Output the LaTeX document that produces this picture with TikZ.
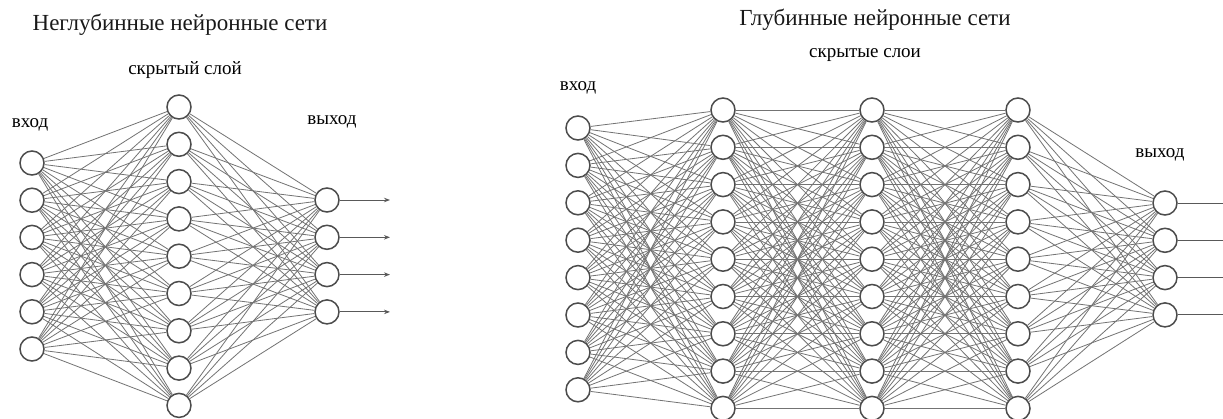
\documentclass[tikz,border=0pt]{standalone}
\usepackage{fontspec}
\setmainfont{Liberation Serif}
\usetikzlibrary{arrows.meta}
\tikzset{
  neuron/.style={circle, draw=black!70, line width=1.5pt, fill=white, minimum size=24pt, inner sep=0pt},
  link/.style={draw=black!55, line width=0.8pt},
  outarrow/.style={draw=black!65, line width=1pt, -{Stealth[length=6pt,width=4.5pt]}},
  outline/.style={draw=black!65, line width=1pt},
  titletext/.style={font=\fontsize{23}{27}\selectfont, text=black!90},
  labeltext/.style={font=\fontsize{19}{22}\selectfont, text=black},
  smalllabel/.style={font=\fontsize{19}{22}\selectfont, text=black}
}
\begin{document}
\begin{tikzpicture}[x=1pt,y=-1pt]
\useasboundingbox (0,0) rectangle (1223,418);
\fill[white] (0,0) rectangle (1223,418);

% ---------- shallow network ----------
\foreach \i in {0,...,5} \node[neuron] (Li\i) at (32,{163+37.2*\i}) {};
\foreach \i in {0,...,8} \node[neuron] (Lh\i) at (179,{107+37.3*\i}) {};
\foreach \i in {0,...,3} \node[neuron] (Lo\i) at (327,{200+37.3*\i}) {};
\foreach \i in {0,...,5} \foreach \j in {0,...,8} \draw[link] (Li\i) -- (Lh\j);
\foreach \i in {0,...,8} \foreach \j in {0,...,3} \draw[link] (Lh\i) -- (Lo\j);
\foreach \i in {0,...,3} {
  \coordinate (La\i) at (390,{200+37.3*\i});
  \draw[outarrow] (Lo\i) -- (La\i);
}

\node[titletext] (Ltitle) at (180,25) {Неглубинные нейронные сети};
\node[labeltext] (Lhid) at (185,70) {скрытый слой};
\node[smalllabel] (Lin) at (30,125) {вход};
\node[smalllabel] (Lout) at (332,122) {выход};

% ---------- deep network ----------
\foreach \i in {0,...,7} \node[neuron] (Ri\i) at (578,{128+37.4*\i}) {};
\foreach \i in {0,...,8} \node[neuron] (Ra\i) at (723,{110+37.3*\i}) {};
\foreach \i in {0,...,8} \node[neuron] (Rb\i) at (872,{110+37.3*\i}) {};
\foreach \i in {0,...,8} \node[neuron] (Rc\i) at (1018,{110+37.3*\i}) {};
\foreach \i in {0,...,3} \node[neuron] (Ro\i) at (1165,{203+37.3*\i}) {};
\foreach \i in {0,...,7} \foreach \j in {0,...,8} \draw[link] (Ri\i) -- (Ra\j);
\foreach \i in {0,...,8} \foreach \j in {0,...,8} \draw[link] (Ra\i) -- (Rb\j);
\foreach \i in {0,...,8} \foreach \j in {0,...,8} \draw[link] (Rb\i) -- (Rc\j);
\foreach \i in {0,...,8} \foreach \j in {0,...,3} \draw[link] (Rc\i) -- (Ro\j);
\foreach \i in {0,...,3} {
  \coordinate (Re\i) at (1223,{203+37.3*\i});
  \draw[outline] (Ro\i) -- (Re\i);
}

\node[titletext] (Rtitle) at (875,20) {Глубинные нейронные сети};
\node[labeltext] (Rhid) at (865,55) {скрытые слои};
\node[smalllabel] (Rin) at (578,88) {вход};
\node[smalllabel] (Rout) at (1160,155) {выход};
\end{tikzpicture}
\end{document}
